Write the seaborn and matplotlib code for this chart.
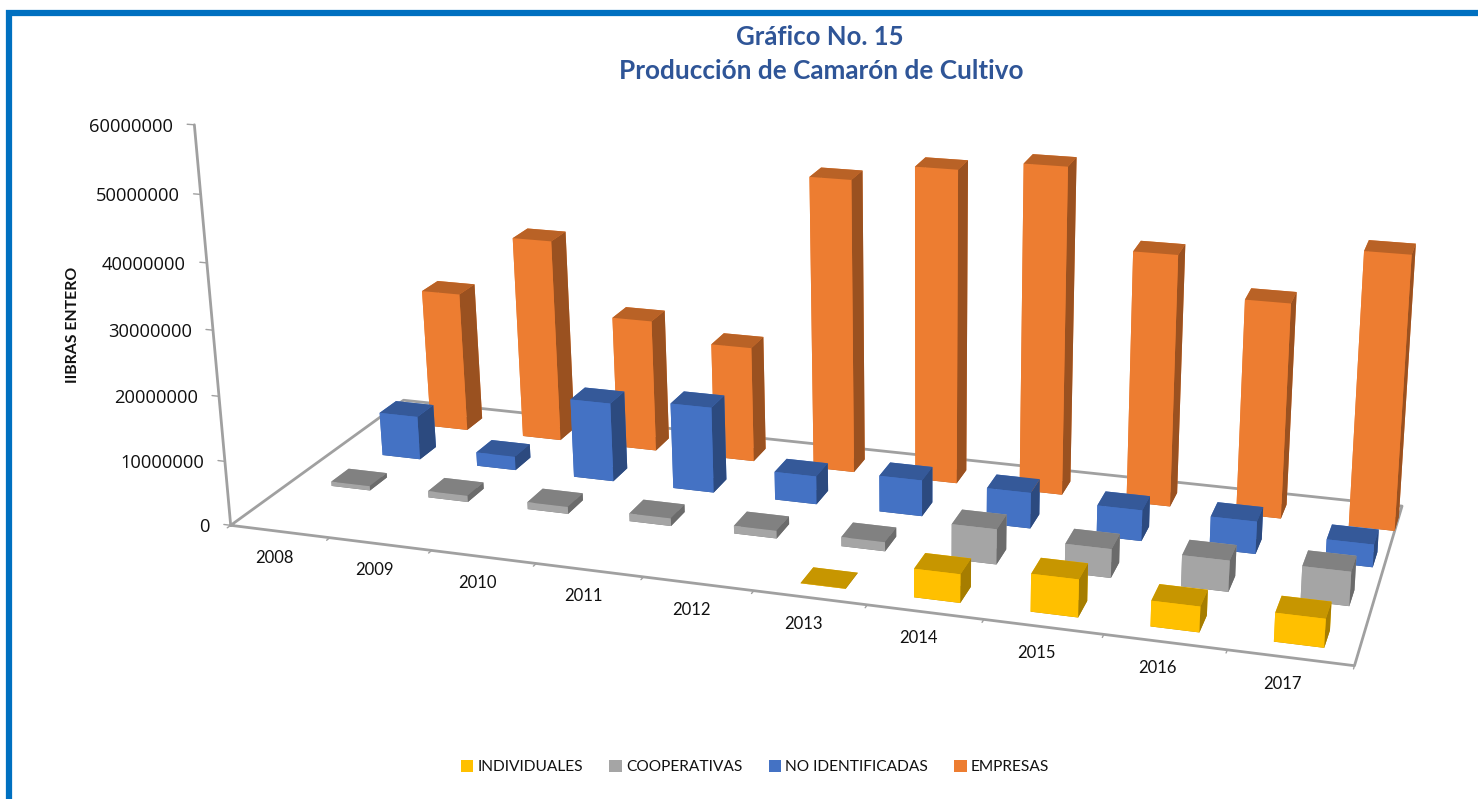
# Produccion de camaron de cultivo - 3D columns
import numpy as np
import matplotlib
matplotlib.use('Agg')
import matplotlib.pyplot as plt
import seaborn as sns
from matplotlib.patches import Patch, Rectangle
from mpl_toolkits.mplot3d import proj3d

years = ['2008', '2009', '2010', '2011', '2012', '2013', '2014', '2015', '2016', '2017']
series_names = ['INDIVIDUALES', 'COOPERATIVAS', 'NO IDENTIFICADAS', 'EMPRESAS']
individuales = [0, 0, 0, 0, 0, 50000, 4200000, 5500000, 3700000, 4100000]
cooperativas = [700000, 1000000, 1100000, 1200000, 1200000, 1400000, 5300000, 4300000, 4600000, 5000000]
no_identificadas = [7000000, 2200000, 12500000, 13500000, 4400000, 5600000, 5500000, 4700000, 4900000, 3400000]
empresas = [22700000, 32700000, 21200000, 18400000, 46000000, 48700000, 50300000, 38500000, 32700000, 41200000]
z_ticks = [0, 10000000, 20000000, 30000000, 40000000, 50000000, 60000000]

sns.set_theme(style='white')
palette = sns.color_palette(['#ffc000', '#a5a5a5', '#4472c4', '#ed7d31'])
line_color = '#a0a0a0'

W, H = 1478, 799
fig = plt.figure(figsize=(W / 100, H / 100), dpi=100)

# axes box in pixels, the 3D box is centred on it
side = 2400
cx, cy = 782, 353
ax = fig.add_axes([(cx - side / 2) / W, (H - cy - side / 2) / H, side / W, side / H], projection='3d')
ax.computed_zorder = False
ax.set_axis_off()
ax.set_xticks([])
ax.set_yticks([])
ax.set_zticks([])
ax.patch.set_alpha(0)
ax.set_proj_type('persp', focal_length=0.2)
ax.view_init(elev=18.3, azim=-71.5, roll=0.8)
ax.set_box_aspect((1200, 410, 445), zoom=0.515)
ax.set_xlim(0, 10)
ax.set_ylim(0, 4)
ax.set_zlim(0, 60000000)

# floor outline and vertical axis
ax.plot([0, 10, 10, 0, 0], [0, 0, 4, 4, 0], [0, 0, 0, 0, 0], color=line_color, lw=2, zorder=0)
ax.plot([0, 0], [0, 0], [0, 60000000], color=line_color, lw=2, zorder=0)
for i in range(11):
    ax.plot([i, i], [0, -0.07], [0, 0], color=line_color, lw=1, zorder=0)
for t in z_ticks:
    ax.plot([0, -0.07], [0, 0], [t, t], color=line_color, lw=1, zorder=0)

# columns, one bar3d call so the faces get sorted together
all_series = [individuales, cooperativas, no_identificadas, empresas]
bw, bd = 0.40, 0.4
xs, ys, dz, face_colors = [], [], [], []
for row, vals in enumerate(all_series):
    base = np.array(palette[row])
    for i, v in enumerate(vals):
        if v == 0:
            continue
        # back rows sit a little further right in the original
        xs.append(i + (1 - bw) / 2 + 0.03 + 0.09 * row)
        ys.append(row + (1 - bd) / 2)
        dz.append(v)
        # bottom, top, front, back, left, right
        face_colors += [base * 0.7, base * 0.78, base, base, base, base * 0.65]
ax.bar3d(xs, ys, np.zeros(len(xs)), bw, bd, dz, color=face_colors, shade=False, zorder=1, edgecolor='none', linewidth=0)


def fig_pos(x, y, z):
    # 3D data position to figure fraction, so labels can be plain figure texts
    px, py, _ = proj3d.proj_transform(x, y, z, ax.get_proj())
    return fig.transFigure.inverted().transform(ax.transData.transform((px, py)))


fig.canvas.draw()
for t in z_ticks:
    fx, fy = fig_pos(0, 0, t)
    fig.text(fx - 21 / W, fy - 2 / H, str(t), ha='right', va='center', fontsize=13.2, family='Open Sans', color='#111111')
for i, y in enumerate(years):
    fx, fy = fig_pos(i + 0.44, 0, 0)
    fig.text(fx, fy - 27 / H, y, ha='center', va='center', fontsize=12, family='Lato', color='#111111')

# titles
fig.text(820 / W, 1 - 37 / H, 'Gráfico No. 15', ha='center', va='center', fontsize=18.5, fontweight='bold', family='Lato', color='#2f5597')
fig.text(821 / W, 1 - 71 / H, 'Producción de Camarón de Cultivo', ha='center', va='center', fontsize=18.8, fontweight='bold', family='Lato', color='#2f5597')
fig.text(73 / W, 1 - 325 / H, 'IIBRAS ENTERO', rotation=90, ha='center', va='center', fontsize=11.4, fontweight='bold', family='Lato', color='#111111')

handles = [Patch(facecolor=c, edgecolor='none') for c in palette]
fig.legend(handles, series_names, loc='center', bbox_to_anchor=(755 / W, 1 - 767 / H), ncol=4, frameon=False,
           handlelength=0.8, handleheight=0.8, handletextpad=0.25, columnspacing=1.7, labelcolor='#111111',
           prop={'family': 'Lato', 'size': 11.2})

# blue frame, open on the right and the bottom
fig.add_artist(Rectangle((9 / W, -0.1), 1.2, 1 - 13 / H + 0.1, transform=fig.transFigure, fill=False,
                         edgecolor='#0070c0', lw=4.5))

fig.savefig('out.png', dpi=100)
